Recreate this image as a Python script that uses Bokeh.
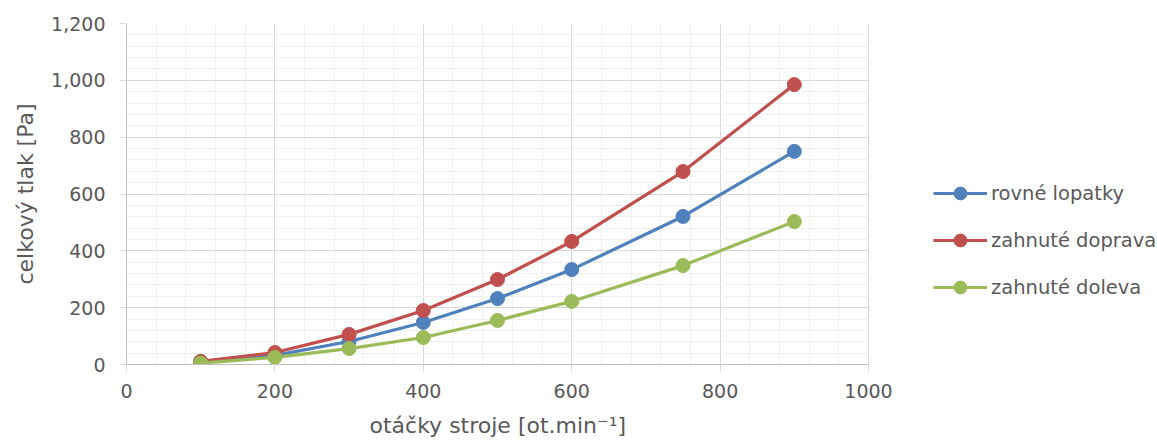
from bokeh.plotting import figure
from bokeh.models import (Range1d, Legend, LegendItem, NumeralTickFormatter,
                          FixedTicker, ColumnDataSource, BoxAnnotation, Title)
from bokeh.embed import file_html
from bokeh.resources import INLINE

speed = [100, 200, 300, 400, 500, 600, 750, 900]
rovne = [10, 32, 81, 148, 232, 334, 521, 750]
doprava = [11, 42, 106, 190, 299, 433, 679, 985]
doleva = [5, 25, 56, 95, 155, 222, 348, 503]
series_names = ["rovné lopatky", "zahnuté doprava", "zahnuté doleva"]
series_colors = ["#4F81BD", "#C0504D", "#9BBB59"]
x_ticks = [0, 200, 400, 600, 800, 1000]
y_ticks = [0, 200, 400, 600, 800, 1000, 1200]
X_MAX = 1000
Y_MAX = 1200
x_label = "otáčky stroje [ot.min⁻¹]"
y_label = "celkový tlak [Pa]"

FONT = "DejaVu Sans"
TXT = "#595959"

W, H = 1157, 448
LEFT, TOP, BOTTOM = 126, 23, 84
AXIS_PX = 742  # pixel length of the 0..1000 x axis
frame_w = W - LEFT
x_end = X_MAX * frame_w / AXIS_PX

p = figure(width=W, height=H, output_backend="svg", toolbar_location=None,
           x_range=Range1d(0, x_end), y_range=Range1d(0, Y_MAX),
           min_border_left=LEFT, min_border_right=0, min_border_top=TOP,
           min_border_bottom=BOTTOM)
p.outline_line_color = None
p.background_fill_color = "white"

p.xgrid.grid_line_color = "#D9D9D9"
p.ygrid.grid_line_color = "#D9D9D9"
p.xgrid.minor_grid_line_color = "#F0F0F0"
p.ygrid.minor_grid_line_color = "#F0F0F0"
p.xgrid.bounds = (0, X_MAX)

# white mask hiding horizontal grid lines right of the plot area
mask = BoxAnnotation(left=X_MAX + 1.5, fill_color="white", fill_alpha=1,
                     line_color=None, level="underlay")
p.add_layout(mask)

items = []
for name, vals, col in zip(series_names, [rovne, doprava, doleva], series_colors):
    src = ColumnDataSource(dict(x=speed, y=vals))
    r1 = p.line("x", "y", source=src, line_color=col, line_width=3.2)
    r2 = p.scatter("x", "y", source=src, size=14, fill_color=col, line_color=col)
    items.append(LegendItem(label=name, renderers=[r1, r2]))

legend = Legend(items=items, location=(807, 61), background_fill_alpha=0,
                border_line_color=None, glyph_width=54, glyph_height=32,
                label_height=20, spacing=15, padding=0, margin=0,
                label_text_font=FONT, label_text_font_size="19.5px",
                label_text_color=TXT, label_standoff=4)
p.add_layout(legend, "center")

for ax in (p.xaxis[0], p.yaxis[0]):
    ax.axis_line_color = "#BFBFBF"
    ax.major_tick_line_color = "#D9D9D9"
    ax.major_tick_out = 7
    ax.major_tick_in = 0
    ax.minor_tick_line_color = None
    ax.major_label_text_font = FONT
    ax.major_label_text_font_size = "19px"
    ax.major_label_text_color = TXT
    ax.axis_label_text_font = FONT
    ax.axis_label_text_font_size = "22px"
    ax.axis_label_text_font_style = "normal"
    ax.axis_label_text_color = TXT

p.xaxis.bounds = (0, X_MAX)
p.xaxis.ticker = FixedTicker(ticks=x_ticks, minor_ticks=list(range(0, X_MAX + 1, 40)))
p.yaxis.ticker = FixedTicker(ticks=y_ticks, minor_ticks=list(range(0, Y_MAX + 1, 40)))
p.yaxis.formatter = NumeralTickFormatter(format="0,0")
p.yaxis.axis_label = y_label
p.xaxis.major_label_standoff = 12
p.yaxis.major_label_standoff = 14
p.yaxis.axis_label_standoff = 10

# x-axis title centred under the 0..1000 axis (not under the wider frame)
xt = Title(text=x_label, align="left", offset=243, standoff=20,
           text_font=FONT, text_font_size="22px", text_font_style="normal",
           text_color=TXT)
p.add_layout(xt, "below")

open("out.html", "w").write(file_html(p, INLINE))
